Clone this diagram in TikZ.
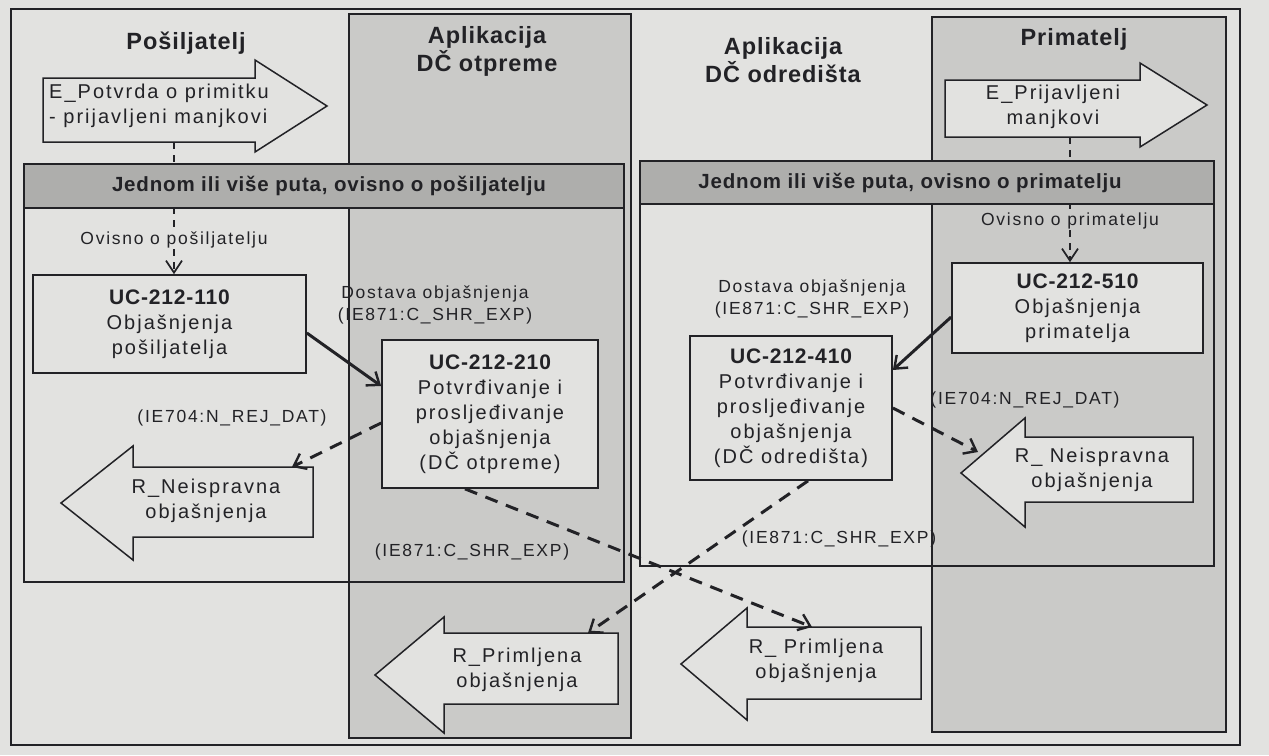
\documentclass[tikz,border=0pt]{standalone}
\usepackage{fontspec}
\setmainfont{Liberation Sans}
\newfontfamily\fRg{Liberation Sans}[LetterSpace=10]
\newfontfamily\fBd{Liberation Sans}[LetterSpace=4]
\usetikzlibrary{arrows.meta,calc}
\definecolor{paper}{RGB}{226,226,224}
\definecolor{shade}{RGB}{202,202,200}
\definecolor{hdrshade}{RGB}{174,174,172}
\definecolor{ink}{RGB}{34,34,38}
\newcommand\ttlfont{\fBd\bfseries\fontsize{23.5}{28}\selectfont}
\newcommand\hdrfont{\fBd\bfseries\fontsize{20.5}{24}\selectfont}
\newcommand\boxfont{\fRg\fontsize{20}{25}\selectfont}
\newcommand\lblfont{\fRg\fontsize{17.5}{21.5}\selectfont}
\newcommand\ucn[1]{{\fBd\bfseries\fontsize{21}{25}\selectfont #1}}
\tikzset{
  frameline/.style={draw=ink, line width=1.3pt},
  colbox/.style={draw=ink, line width=1.4pt, fill=shade},
  grpbox/.style={draw=ink, line width=1.6pt},
  hdrbox/.style={draw=ink, line width=1.6pt, fill=hdrshade, inner sep=0pt},
  ucbox/.style={draw=ink, line width=1.7pt, fill=paper, align=center, inner sep=0pt, text=ink, font=\boxfont},
  bigarrow/.style={draw=ink, line width=1.5pt, fill=paper, line join=miter},
  arrtext/.style={align=center, text=ink, font=\boxfont, inner sep=0pt},
  lbl/.style={align=center, text=ink, font=\lblfont, inner sep=1pt},
  ttl/.style={align=center, text=ink, font=\ttlfont, inner sep=0pt},
  hdrtext/.style={text=ink, font=\hdrfont, inner sep=0pt},
  flowtip/.style={-{Straight Barb[length=11pt,width=17pt,line width=2.4pt]}},
  flow/.style={draw=ink, line width=3pt, line cap=butt, flowtip},
  dflow/.style={flow, dash pattern=on 13pt off 9pt},
  vdash/.style={draw=ink, line width=1.7pt, dash pattern=on 7pt off 6pt},
  vbarb/.style={vdash, -{Straight Barb[length=12pt,width=16pt,line width=1.7pt]}},
}
\begin{document}
\begin{tikzpicture}[x=1pt,y=-1pt]
\useasboundingbox (0,0) rectangle (1269,755);
\fill[paper] (0,0) rectangle (1269,755);
% outer frame and shaded columns
\draw[frameline] (11,9) rectangle (1240,745);
\draw[colbox] (349,14) rectangle (631,738);
\draw[colbox] (932,17) rectangle (1226,732);
% group boxes
\draw[grpbox] (24,164) rectangle (624,582);
\draw[grpbox] (640,161) rectangle (1214,566);
% titles
\node[ttl] (tPos) at (186,43) {Pošiljatelj};
\node[ttl] (tOtp) at (487,51) {Aplikacija\\DČ otpreme};
\node[ttl] (tOdr) at (783,60) {Aplikacija\\DČ odredišta};
\node[ttl] (tPrim) at (1074,39) {Primatelj};
% big arrows
\draw[bigarrow] (43,78) -- (255,78) -- (255,60) -- (327,106) -- (255,152) -- (255,142) -- (43,142) -- cycle;
\node[arrtext, anchor=west, align=left] (eL) at (49,106) {E\_Potvrda o primitku\\- prijavljeni manjkovi};
\coordinate (eLbot) at (174,142);
\draw[bigarrow] (945,80) -- (1140,80) -- (1140,63) -- (1207,105) -- (1140,147) -- (1140,137) -- (945,137) -- cycle;
\node[arrtext] (eR) at (1053,107) {E\_Prijavljeni\\manjkovi};
\coordinate (eRbot) at (1070,137);
\draw[bigarrow] (313,467) -- (133,467) -- (133,446) -- (61,503) -- (133,560) -- (133,537) -- (313,537) -- cycle;
\node[arrtext] (rnL) at (206,501) {R\_Neispravna\\objašnjenja};
\coordinate (rnLin) at (292,467);
\draw[bigarrow] (618,633) -- (444,633) -- (444,617) -- (375,675) -- (444,733) -- (444,704) -- (618,704) -- cycle;
\node[arrtext] (rpL) at (517,670) {R\_Primljena\\objašnjenja};
\coordinate (rpLin) at (588,633);
\draw[bigarrow] (921,627) -- (747,627) -- (747,608) -- (681,664) -- (747,720) -- (747,699) -- (921,699) -- cycle;
\node[arrtext] (rpR) at (816,661) {R\_ Primljena\\objašnjenja};
\coordinate (rpRin) at (812,627);
\draw[bigarrow] (1193,437) -- (1025,437) -- (1025,418) -- (961,473) -- (1025,527) -- (1025,502) -- (1193,502) -- cycle;
\node[arrtext] (rnR) at (1092,470) {R\_ Neispravna\\objašnjenja};
\coordinate (rnRin) at (978,452);
% use case boxes
\node[ucbox, minimum width=273pt, minimum height=98pt] (uc110) at (169.5,324) {\ucn{UC-212-110}\\Objašnjenja\\pošiljatelja};
\node[ucbox, minimum width=216pt, minimum height=148pt] (uc210) at (490,414) {\ucn{UC-212-210}\\Potvrđivanje i\\prosljeđivanje\\objašnjenja\\(DČ otpreme)};
\node[ucbox, minimum width=202pt, minimum height=144pt] (uc410) at (791,408) {\ucn{UC-212-410}\\Potvrđivanje i\\prosljeđivanje\\objašnjenja\\(DČ odredišta)};
\node[ucbox, minimum width=251pt, minimum height=90pt] (uc510) at (1077.5,308) {\ucn{UC-212-510}\\Objašnjenja\\primatelja};
% labels
\node[lbl] (ovL) at (174,240) {Ovisno o pošiljatelju};
\node[lbl] (ovR) at (1070,221) {Ovisno o primatelju};
\node[lbl] (dostL) at (435,305) {Dostava objašnjenja\\(IE871:C\_SHR\_EXP)};
\node[lbl] (dostR) at (812,299) {Dostava objašnjenja\\(IE871:C\_SHR\_EXP)};
\node[lbl] (rejL) at (232,418) {(IE704:N\_REJ\_DAT)};
\node[lbl] (rejR) at (1025,400) {(IE704:N\_REJ\_DAT)};
\node[lbl] (shrL) at (472,552) {(IE871:C\_SHR\_EXP)};
\node[lbl] (shrR) at (839,539) {(IE871:C\_SHR\_EXP)};
% connectors
\draw[vdash] (eLbot) -- (ovL.north -| eLbot);
\draw[vbarb] (ovL.south) -- (ovL.south |- uc110.north);
\draw[vdash] (eRbot) -- (ovR.north -| eRbot);
\draw[vbarb] (ovR.south) -- (ovR.south |- uc510.north);
\draw[flow] ($(uc110.east)+(0,9)$) -- ($(uc210.west)+(0,-28)$);
\draw[dflow] ($(uc210.west)+(0,9)$) -- (rnLin);
\draw[dflow] ($(uc210.south)+(-25,0)$) -- (rpRin);
\draw[dflow] ($(uc410.south)+(17,0)$) -- (rpLin);
\draw[flow] ($(uc510.west)+(0,9)$) -- ($(uc410.east)+(0,-38)$);
\draw[dflow] (uc410.east) -- (rnRin);
% headers on top
\node[hdrbox, minimum width=600pt, minimum height=44pt] (hL) at (324,186) {};
\node[hdrtext] (hLt) at (329,186) {Jednom ili više puta, ovisno o pošiljatelju};
\node[hdrbox, minimum width=574pt, minimum height=43pt] (hR) at (927,182.5) {};
\node[hdrtext] (hRt) at (910,182.5) {Jednom ili više puta, ovisno o primatelju};
\end{tikzpicture}
\end{document}
